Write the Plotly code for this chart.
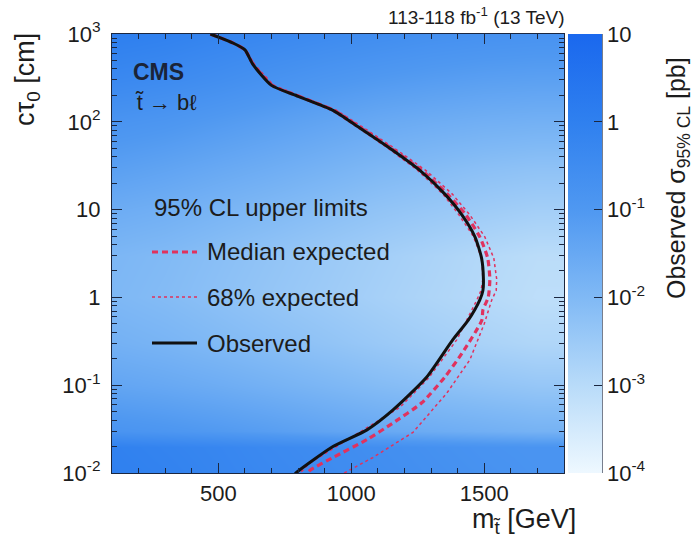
import numpy as np
import plotly.graph_objects as go

# ---- exclusion contours (stop mass [GeV], c*tau0 [cm]) ----
obs_mass = [470, 555, 600, 630, 700, 800, 931, 1032, 1145, 1258, 1352, 1416, 1465,
            1490, 1497, 1495, 1483, 1440, 1382, 1284, 1156, 1059, 931, 795, 785]
obs_ctau = [1000, 790, 660, 450, 260, 195, 135, 85, 50, 28, 15, 8.7, 4.9,
            2.8, 1.6, 1.2, 0.93, 0.55, 0.33, 0.124, 0.052, 0.031, 0.020, 0.0102, 0.0095]

exp_mass = [470, 555, 600, 632, 703, 803, 935, 1037, 1150, 1265, 1362, 1431, 1483,
            1513, 1521, 1515, 1495, 1491, 1416, 1352, 1265, 1156, 1059, 931, 844, 830]
exp_ctau = [1000, 790, 660, 450, 260, 195, 135, 85, 50, 28, 15, 8.7, 4.9,
            2.8, 1.6, 1.0, 0.72, 0.55, 0.23, 0.124, 0.063, 0.037, 0.024, 0.015, 0.0107, 0.0095]

band_hi_mass = [470, 557, 603, 636, 708, 810, 945, 1048, 1162, 1280, 1380, 1446, 1502,
                1536, 1547, 1545, 1528, 1500, 1446, 1359, 1232, 1081, 976, 970]
band_hi_ctau = [1000, 790, 660, 450, 260, 195, 135, 85, 50, 28, 15, 8.7, 4.9,
                2.8, 1.6, 1.2, 0.93, 0.5, 0.195, 0.081, 0.029, 0.015, 0.0101, 0.0095]

band_lo_mass = [470, 553, 598, 628, 698, 797, 926, 1027, 1138, 1250, 1345, 1405, 1460,
                1490, 1495, 1488, 1472, 1397, 1290, 1183, 1032, 844, 800]
band_lo_ctau = [1000, 790, 660, 450, 260, 195, 135, 85, 50, 28, 15, 8.7, 4.9,
                2.8, 1.6, 1.2, 0.93, 0.33, 0.12, 0.056, 0.029, 0.013, 0.0095]

# ---- observed 95% CL cross-section limit map [pb] ----
map_mass = [100, 300, 500, 700, 900, 1100, 1300, 1500, 1700, 1800]
map_ctau = [0.01, 0.02, 0.03, 0.1, 0.3, 1, 3, 10, 30, 100, 300, 1000]
map_sigma = [
    [1.0, 0.8, 0.6, 0.45, 0.35, 0.28, 0.22, 0.18, 0.15, 0.15],
    [0.9, 0.7, 0.55, 0.4, 0.32, 0.25, 0.2, 0.16, 0.14, 0.14],
    [0.15, 0.12, 0.09, 0.065, 0.045, 0.032, 0.025, 0.02, 0.016, 0.016],
    [0.04, 0.032, 0.024, 0.017, 0.012, 0.0085, 0.0065, 0.005, 0.004, 0.004],
    [0.018, 0.014, 0.01, 0.007, 0.005, 0.0035, 0.0025, 0.0018, 0.0014, 0.0014],
    [0.011, 0.0085, 0.006, 0.0042, 0.003, 0.0021, 0.0015, 0.0011, 0.0008, 0.0008],
    [0.012, 0.0095, 0.0068, 0.0048, 0.0034, 0.0024, 0.0017, 0.0012, 0.0009, 0.0009],
    [0.025, 0.02, 0.014, 0.01, 0.007, 0.005, 0.0038, 0.0029, 0.0023, 0.0023],
    [0.06, 0.045, 0.032, 0.023, 0.016, 0.011, 0.0085, 0.0065, 0.0055, 0.0055],
    [0.15, 0.12, 0.085, 0.06, 0.042, 0.03, 0.024, 0.02, 0.018, 0.018],
    [0.45, 0.35, 0.25, 0.17, 0.12, 0.09, 0.072, 0.06, 0.055, 0.055],
    [1.1, 0.9, 0.65, 0.48, 0.36, 0.28, 0.22, 0.19, 0.17, 0.17],
]

x_tick0, x_tickstep, x_minorstep = 500, 500, 100
y_labels = {"0.01": "10<sup>-2</sup>", "0.1": "10<sup>-1</sup>",
            "100": "10<sup>2</sup>", "1000": "10<sup>3</sup>"}
cb_tickvals = [1e-4, 1e-3, 1e-2, 1e-1, 1, 10]
cb_ticktext = ["10<sup>-4</sup>", "10<sup>-3</sup>", "10<sup>-2</sup>", "10<sup>-1</sup>", "1", "10"]

FONT = "Liberation Sans, Arial, Helvetica, sans-serif"
INK = "#1c1c1c"
AXIS = "#1b2740"
RED = "#e0325e"

W, H = 695, 545
L, R, T, B = 112, 564, 34, 473


def px_x(p):
    return (p - L) / (R - L)


def px_y(p):
    return (B - p) / (B - T)


blues = [
    [0.0, "#eef8ff"],
    [0.2, "#b8dbf9"],
    [0.4, "#80b9f5"],
    [0.6, "#4f98f1"],
    [0.8, "#2f80ef"],
    [1.0, "#1a68ee"],
]

fig = go.Figure()

fig.add_trace(go.Heatmap(
    x=map_mass,
    y=np.log10(map_ctau),
    z=np.log10(np.array(map_sigma)),
    zmin=-4, zmax=1,
    zsmooth="best",
    colorscale=blues,
    xaxis="x", yaxis="y",
    hoverinfo="skip",
    colorbar=dict(
        x=1.0, xanchor="left", xpad=4,
        y=0.5, len=1.0, lenmode="fraction", ypad=0,
        thickness=34, outlinewidth=0,
        tickvals=np.log10(cb_tickvals), ticktext=cb_ticktext,
        ticks="inside", ticklen=8, tickcolor=AXIS, tickwidth=1,
        tickfont=dict(family=FONT, size=22, color=INK),
    ),
))

fig.add_trace(go.Scatter(x=band_hi_mass, y=band_hi_ctau, mode="lines", xaxis="x", yaxis="y2",
                         line=dict(color=RED, width=1.5, dash="dot"), showlegend=False))
fig.add_trace(go.Scatter(x=band_lo_mass, y=band_lo_ctau, mode="lines", xaxis="x", yaxis="y2",
                         line=dict(color=RED, width=1.5, dash="dot"), showlegend=False))
fig.add_trace(go.Scatter(x=exp_mass, y=exp_ctau, mode="lines", xaxis="x", yaxis="y2",
                         line=dict(color=RED, width=3.2, dash="6px,4px", shape="spline",
                                   smoothing=0.6), showlegend=False))
fig.add_trace(go.Scatter(x=obs_mass, y=obs_ctau, mode="lines", xaxis="x", yaxis="y2",
                         line=dict(color="#111111", width=3, shape="spline", smoothing=0.6),
                         showlegend=False))

fig.update_layout(
    width=W, height=H,
    margin=dict(l=L, r=W - R, t=T, b=H - B, pad=0),
    paper_bgcolor="white", plot_bgcolor="white",
    font=dict(family=FONT, color=INK),
    showlegend=False,
    xaxis=dict(
        range=[100, 1800], showgrid=False, zeroline=False,
        showline=True, linecolor=AXIS, linewidth=1.2, mirror="ticks",
        ticks="inside", ticklen=10, tickcolor=AXIS, tickwidth=1.2,
        tickmode="linear", tick0=x_tick0, dtick=x_tickstep,
        tickfont=dict(family=FONT, size=22, color=INK),
        minor=dict(dtick=x_minorstep, ticks="inside", ticklen=5, tickcolor=AXIS,
                   tickwidth=1, showgrid=False),
    ),
    yaxis=dict(range=[-2, 3], visible=False, fixedrange=True),
    yaxis2=dict(
        type="log", range=[-2, 3], overlaying="y", side="left", anchor="x",
        showgrid=False, zeroline=False,
        showline=True, linecolor=AXIS, linewidth=1.2, mirror="ticks",
        ticks="inside", ticklen=10, tickcolor=AXIS, tickwidth=1.2,
        tickmode="linear", tick0=0, dtick=1, labelalias=y_labels,
        tickfont=dict(family=FONT, size=22, color=INK),
        ticklabelstandoff=6,
        minor=dict(dtick="D1", ticks="inside", ticklen=5, tickcolor=AXIS,
                   tickwidth=1, showgrid=False),
    ),
)

# colour-bar axis line on its right edge
fig.add_shape(type="line", xref="paper", yref="paper",
              x0=px_x(602), x1=px_x(602), y0=0, y1=1,
              line=dict(color=AXIS, width=1.2))

ann = [
    dict(text="113-118 fb<sup>-1</sup> (13 TeV)", x=px_x(567), y=px_y(16),
         xanchor="right", yanchor="middle", font=dict(size=19)),
    dict(text="<b>CMS</b>", x=px_x(131), y=px_y(72), xanchor="left", yanchor="middle",
         font=dict(size=23, color="#1a2438")),
    dict(text="t\u0303 \u2192 b\u2113", x=px_x(133), y=px_y(103), xanchor="left", yanchor="middle",
         font=dict(size=22)),
    dict(text="95% CL upper limits", x=px_x(152), y=px_y(207), xanchor="left", yanchor="middle",
         font=dict(size=24)),
    dict(text="Median expected", x=px_x(205), y=px_y(252), xanchor="left", yanchor="middle",
         font=dict(size=24)),
    dict(text="68% expected", x=px_x(205), y=px_y(297), xanchor="left", yanchor="middle",
         font=dict(size=24)),
    dict(text="Observed", x=px_x(205), y=px_y(343), xanchor="left", yanchor="middle",
         font=dict(size=24)),
    dict(text="c\u03c4<sub>0</sub> [cm]", x=px_x(27), y=px_y(80), textangle=-90,
         xanchor="center", yanchor="middle", font=dict(size=27)),
    dict(text="m<sub>t\u0303</sub> [GeV]", x=px_x(578), y=px_y(521), xanchor="right",
         yanchor="middle", font=dict(size=27)),
    dict(text="Observed \u03c3<sub>95% CL</sub> [pb]", x=px_x(678), y=px_y(178), textangle=-90,
         xanchor="center", yanchor="middle", font=dict(size=25)),
]
for a in ann:
    a.update(xref="paper", yref="paper", showarrow=False)
    a["font"] = dict(family=FONT, color=a["font"].get("color", INK), size=a["font"]["size"])
fig.update_layout(annotations=ann)

# legend samples
fig.add_shape(type="line", xref="paper", yref="paper", x0=px_x(152), x1=px_x(197),
              y0=px_y(252), y1=px_y(252), line=dict(color=RED, width=3.2, dash="6px,4px"))
fig.add_shape(type="line", xref="paper", yref="paper", x0=px_x(152), x1=px_x(197),
              y0=px_y(297), y1=px_y(297), line=dict(color=RED, width=1.5, dash="dot"))
fig.add_shape(type="line", xref="paper", yref="paper", x0=px_x(152), x1=px_x(197),
              y0=px_y(343), y1=px_y(343), line=dict(color="#111111", width=3))

fig.write_html("out.html")
